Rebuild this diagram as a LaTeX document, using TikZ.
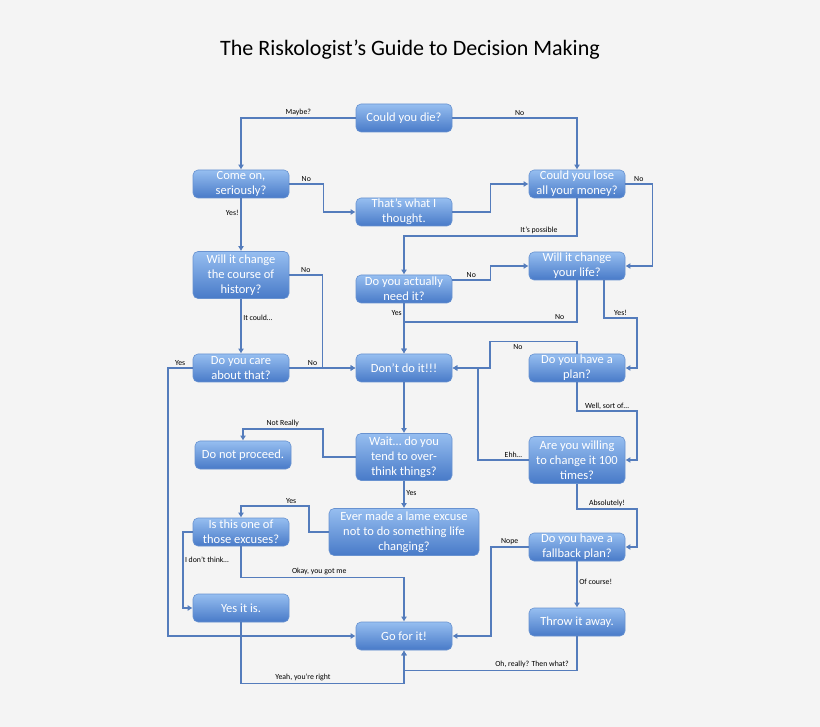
\documentclass[tikz,border=0pt]{standalone}
\usepackage{fontspec}
\setmainfont{Carlito}
\usetikzlibrary{arrows.meta}
\definecolor{bgcol}{RGB}{244,244,244}
\definecolor{boxtop}{RGB}{150,190,240}
\definecolor{boxbot}{RGB}{72,122,200}
\definecolor{boxedge}{RGB}{104,146,208}
\definecolor{wire}{RGB}{84,124,188}

\begin{document}
\begin{tikzpicture}[x=1pt, y=-1pt,
	box/.style={rectangle, rounded corners=5pt, draw=boxedge, line width=0.6pt, top color=boxtop, bottom color=boxbot, text=white, align=center, minimum width=96pt, minimum height=28pt, inner sep=0.5pt, font=\fontsize{12.5}{15}\selectfont},
	tall/.style={minimum height=47pt},
	lbl/.style={font=\fontsize{7.8}{9}\selectfont, inner sep=1.5pt},
	arr/.style={draw=wire, line width=1.6pt, -{Latex[length=5pt,width=6pt]}}]

\fill[bgcol] (0,0) rectangle (820,727);
\node (title) at (410,50) {\fontsize{22}{26}\selectfont The Riskologist’s Guide to Decision Making};

\node[box] (die) at (404,118) {Could you die?};
\node[box] (seriously) at (241,184) {Come on,\\seriously?};
\node[box] (thought) at (404,212) {That’s what I\\thought.};
\node[box] (money) at (577,184) {Could you lose\\all your money?};
\node[box, tall] (history) at (241,275) {Will it change\\the course of\\history?};
\node[box] (need) at (404,289) {Do you actually\\need it?};
\node[box] (life) at (577,266) {Will it change\\your life?};
\node[box] (care) at (241,368) {Do you care\\about that?};
\node[box] (dont) at (404,368) {Don’t do it!!!};
\node[box] (plan) at (577,368) {Do you have a\\plan?};
\node[box] (proceed) at (243,455) {Do not proceed.};
\node[box, tall] (overthink) at (404,457) {Wait… do you\\tend to over-\\think things?};
\node[box, tall] (willing) at (577,460) {Are you willing\\to change it 100\\times?};
\node[box, tall, minimum width=150pt] (excuse) at (404,532) {Ever made a lame excuse\\not to do something life\\changing?};
\node[box] (those) at (241,532) {Is this one of\\those excuses?};
\node[box] (fallback) at (577,547) {Do you have a\\fallback plan?};
\node[box] (yesitis) at (241,608) {Yes it is.};
\node[box] (gofor) at (404,636) {Go for it!};
\node[box] (throw) at (577,622) {Throw it away.};

\draw[arr] (die.west) -| node[lbl, above, pos=0.25] {Maybe?} (seriously.north);
\draw[arr] (die.east) -| node[lbl, above, pos=0.27] {No} (money.north);
\draw[arr] (seriously.east) -- node[lbl, above] {No} ++(34,0) |- (thought.west);
\draw[arr] (thought.east) -- ++(38,0) |- (money.west);
\draw[arr] (money.south) -- ++(0,38) -| node[lbl, above, pos=0.11] {It’s possible} (need.north);
\draw[arr] (money.east) -- node[lbl, above] {No} ++(27,0) |- (life.east);
\draw[arr] (seriously.south) -- node[lbl, left, pos=0.27] {Yes!} (history.north);
\draw[arr] (history.east) -- node[lbl, above] {No} ++(33,0) |- (dont.west);
\draw[arr] (history.south) -- node[lbl, right, pos=0.35] {It could…} (care.north);
\draw[arr] ([yshift=9pt]need.east) -- node[lbl, above] {No} ++(38,0) |- (life.west);
\draw[arr] (need.south) -- node[lbl, left, pos=0.2] {Yes} (dont.north);
\draw[arr] (life.south) -- ++(0,42) -| node[lbl, above, pos=0.05] {No} (dont.north);
\draw[arr] ([xshift=27pt]life.south) -- ++(0,38) -- node[lbl, above] {Yes!} ++(33,0) |- (plan.east);
\draw[arr] (plan.north) -- ++(0,-12) -- node[lbl, below, pos=0.68] {No} ++(-87,0) |- (dont.east);
\draw[arr] (care.east) -- node[lbl, above, pos=0.35] {No} (dont.west);
\draw[arr] (care.west) -- node[lbl, above] {Yes} ++(-25,0) |- (gofor.west);
\draw[arr] (dont.south) -- (overthink.north);
\draw[arr] (plan.south) -- ++(0,29) -- node[lbl, above] {Well, sort of…} ++(60,0) |- (willing.east);
\draw[arr] (willing.west) -- node[lbl, above, pos=0.3] {Ehh…} ++(-51,0) |- (dont.east);
\draw[arr] (overthink.west) -- ++(-33,0) -- ++(0,-28) -| node[lbl, above, pos=0.25] {Not Really} (proceed.north);
\draw[arr] (overthink.south) -- node[lbl, right, pos=0.45] {Yes} (excuse.north);
\draw[arr] (excuse.west) -- ++(-20,0) -- ++(0,-26) -| node[lbl, above, pos=0.13] {Yes} (those.north);
\draw[arr] (those.west) -- ++(-10,0) |- node[lbl, right, pos=0.18] {I don’t think…} (yesitis.west);
\draw[arr] (those.south) -- ++(0,31) -| node[lbl, above, pos=0.24] {Okay, you got me} (gofor.north);
\draw[arr] (yesitis.south) -- ++(0,61) -| node[lbl, above, pos=0.19] {Yeah, you’re right} (gofor.south);
\draw[arr] (willing.south) -- ++(0,25) -- node[lbl, above] {Absolutely!} ++(60,0) |- (fallback.east);
\draw[arr] (fallback.west) -- node[lbl, above] {Nope} ++(-38,0) |- (gofor.east);
\draw[arr] (fallback.south) -- node[lbl, right, pos=0.45] {Of course!} (throw.north);
\draw[arr] (throw.south) -- ++(0,34) -| node[lbl, above, pos=0.13] {Oh, really? Then what?} (gofor.south);

\end{tikzpicture}
\end{document}
